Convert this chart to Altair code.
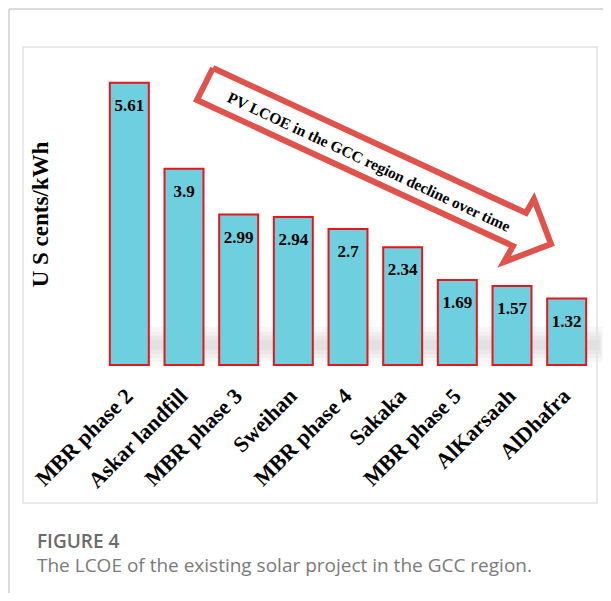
import altair as alt
import pandas as pd

projects = ["MBR phase 2", "Askar landfill", "MBR phase 3", "Sweihan", "MBR phase 4",
            "Sakaka", "MBR phase 5", "AlKarsaah", "AlDhafra"]
lcoe = [5.61, 3.9, 2.99, 2.94, 2.7, 2.34, 1.69, 1.57, 1.32]
lcoe_text = ["5.61", "3.9", "2.99", "2.94", "2.7", "2.34", "1.69", "1.57", "1.32"]

# arrow outline (x in bar-index units, y in US cents/kWh)
arrow_x = [1.53, 7.256, 7.402, 7.713, 6.853, 7.018, 1.238, 1.53]
arrow_y = [5.90, 3.02, 3.298, 2.404, 2.046, 2.364, 5.265, 5.90]
arrow_text = "PV LCOE in the GCC region decline over time"
arrow_text_x = [4.38]
arrow_text_y = [4.03]

# soft shadow band behind the bars (x in bar-index units, y in US cents/kWh)
shadow_x1 = [0.3, 0.2, 0.1, 0.0]
shadow_x2 = [8.6, 8.62, 8.64, 8.66]
shadow_y1 = [0.30, 0.22, 0.14, 0.06]
shadow_y2 = [0.50, 0.58, 0.66, 0.76]

caption_head = "FIGURE 4"
caption_body = "The LCOE of the existing solar project in the GCC region."

W, H = 492, 302
SERIF = "Liberation Serif"

bars_df = pd.DataFrame({"project": projects, "value": lcoe, "txt": lcoe_text})
arrow_df = pd.DataFrame({"ax": arrow_x, "value": arrow_y, "o": list(range(len(arrow_x)))})
atext_df = pd.DataFrame({"ax": arrow_text_x, "value": arrow_text_y, "t": [arrow_text]})
shadow_df = pd.DataFrame({"ax": shadow_x1, "ax2": shadow_x2,
                          "value": shadow_y1, "v2": shadow_y2})
one = pd.DataFrame({"a": [0]})

yscale = alt.Scale(domain=[0, 6], nice=False, zero=True)
yaxis = alt.Axis(labels=False, ticks=False, domain=False, grid=False,
                 title="U S cents/kWh", titleFont=SERIF, titleFontSize=23,
                 titleFontWeight="bold", titleColor="black", titlePadding=50)
xq = alt.Scale(domain=[-0.5, 8.5], nice=False, zero=False)
xband = alt.Scale(paddingInner=0.287, paddingOuter=0.1435)

shadow = alt.Chart(shadow_df).mark_rect(color="#8a8a8a", opacity=0.07).encode(
    x=alt.X("ax:Q", scale=xq, axis=None),
    x2="ax2:Q",
    y=alt.Y("value:Q", scale=yscale, axis=yaxis),
    y2="v2:Q",
)

bars = alt.Chart(bars_df).mark_bar(color="#6ecfdf", stroke="#e8151b", strokeWidth=2).encode(
    x=alt.X("project:N", sort=projects, scale=xband,
            axis=alt.Axis(title="", labelAngle=-45, labelAlign="right", labelBaseline="middle",
                          labelFont=SERIF, labelFontSize=22, labelFontWeight="bold",
                          labelColor="black", labelPadding=27, ticks=False, domain=False,
                          grid=False, labelOffset=0)),
    y=alt.Y("value:Q", scale=yscale, axis=yaxis),
)

vals = alt.Chart(bars_df).mark_text(font=SERIF, fontSize=17, fontWeight="bold",
                                    color="black", baseline="middle", dy=23).encode(
    x=alt.X("project:N", sort=projects, scale=xband, axis=None),
    y=alt.Y("value:Q", scale=yscale, axis=yaxis),
    text="txt:N",
)

arrow = alt.Chart(arrow_df).mark_line(color="#e0524c", strokeWidth=6, strokeJoin="miter",
                                      strokeMiterLimit=10).encode(
    x=alt.X("ax:Q", scale=xq, axis=None),
    y=alt.Y("value:Q", scale=yscale, axis=yaxis),
    order="o:O",
)

atext = alt.Chart(atext_df).mark_text(font=SERIF, fontSize=15.5, fontWeight="bold",
                                      color="black", angle=25, align="center",
                                      baseline="middle").encode(
    x=alt.X("ax:Q", scale=xq, axis=None),
    y=alt.Y("value:Q", scale=yscale, axis=yaxis),
    text="t:N",
)

inner_frame = alt.Chart(one).mark_rect(fillOpacity=0, stroke="#e2e2e2", strokeWidth=1.5).encode(
    x=alt.value(-79), x2=alt.value(495), y=alt.value(-16), y2=alt.value(440))
outer_top = alt.Chart(one).mark_rule(color="#cfcfcf", strokeWidth=1.5).encode(
    x=alt.value(-93), x2=alt.value(W + 10), y=alt.value(-54))
outer_left = alt.Chart(one).mark_rule(color="#cfcfcf", strokeWidth=1.5).encode(
    x=alt.value(-93), y=alt.value(-54), y2=alt.value(H + 240))

cap1 = alt.Chart(one).mark_text(text=caption_head, font="Open Sans", fontSize=19,
                                fontWeight=600, color="#6b6b6b", align="left",
                                baseline="alphabetic").encode(
    x=alt.value(-65), y=alt.value(485))
cap2 = alt.Chart(one).mark_text(text=caption_body, font="Open Sans", fontSize=19,
                                color="#7a7a7a", align="left",
                                baseline="alphabetic").encode(
    x=alt.value(-65), y=alt.value(509))

chart = alt.layer(
    shadow, bars, vals, arrow, atext, inner_frame, outer_top, outer_left, cap1, cap2
).resolve_scale(x="independent").properties(
    width=W, height=H,
    padding={"left": 94, "top": 55, "right": 9, "bottom": 228},
    autosize=alt.AutoSizeParams(type="none"),
    background="white",
).configure_view(stroke=None)

chart.save("out.html", embed_options={"renderer": "svg", "actions": False})
